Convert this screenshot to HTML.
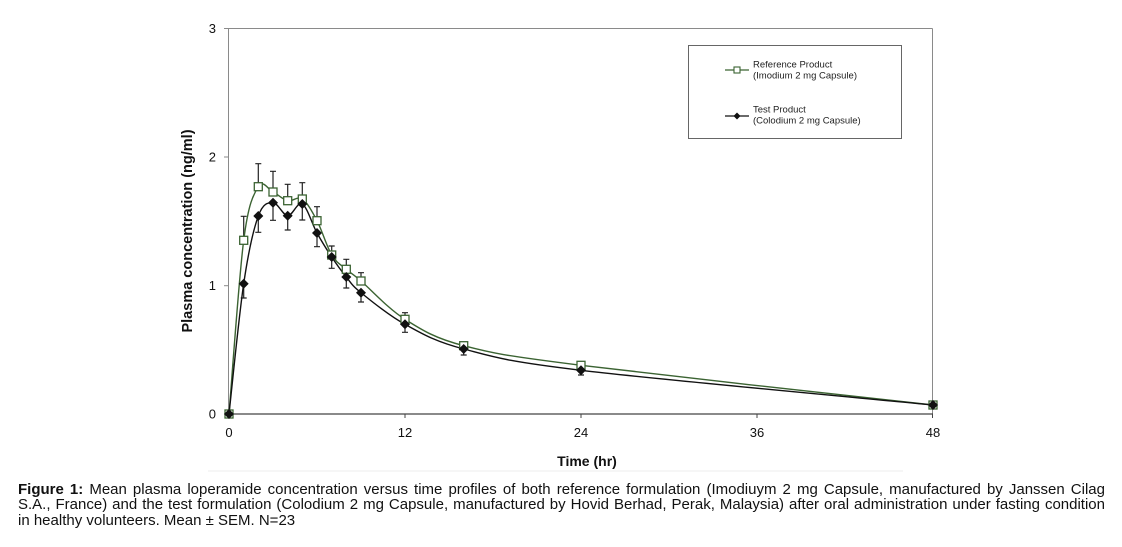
<!DOCTYPE html>
<html>
<head>
<meta charset="utf-8">
<style>
html,body{margin:0;padding:0;background:#fff;}
body{width:1122px;height:547px;position:relative;overflow:hidden;font-family:"Liberation Sans",Arial,sans-serif;}
svg{position:absolute;left:0;top:0;}
.cap{position:absolute;left:18px;width:1087px;font-size:15px;line-height:15.5px;color:#111;text-align:justify;text-align-last:justify;}
.cap.last{text-align-last:left;}
</style>
</head>
<body>
<svg width="1122" height="547" viewBox="0 0 1122 547" xmlns="http://www.w3.org/2000/svg">
  <!-- faint divider -->
  <line x1="208" y1="471" x2="903" y2="471" stroke="#ececec" stroke-width="1"/>
  <!-- plot frame -->
  <line x1="228.5" y1="28.5" x2="932.5" y2="28.5" stroke="#8a8a8a" stroke-width="1"/>
  <line x1="932.5" y1="28.5" x2="932.5" y2="418" stroke="#8a8a8a" stroke-width="1"/>
  <line x1="228.5" y1="28.5" x2="228.5" y2="414" stroke="#8a8a8a" stroke-width="1"/>
  <line x1="228.5" y1="414" x2="933" y2="414" stroke="#444" stroke-width="1.2"/>
  <!-- y ticks -->
  <g stroke="#8a8a8a" stroke-width="1">
    <line x1="224" y1="28.5" x2="228.5" y2="28.5"/>
    <line x1="224" y1="157" x2="228.5" y2="157"/>
    <line x1="224" y1="285.7" x2="228.5" y2="285.7"/>
    <line x1="224" y1="414" x2="228.5" y2="414"/>
  </g>
  <!-- x ticks -->
  <g stroke="#444" stroke-width="1">
    <line x1="229" y1="414" x2="229" y2="418"/>
    <line x1="405" y1="414" x2="405" y2="418"/>
    <line x1="581" y1="414" x2="581" y2="418"/>
    <line x1="757" y1="414" x2="757" y2="418"/>
    <line x1="932.5" y1="414" x2="932.5" y2="418"/>
  </g>
  <!-- y tick labels -->
  <g font-family="Liberation Sans, Arial, sans-serif" font-size="13" fill="#111" text-anchor="end">
    <text x="216" y="33">3</text>
    <text x="216" y="161.5">2</text>
    <text x="216" y="290">1</text>
    <text x="216" y="418.5">0</text>
  </g>
  <!-- x tick labels -->
  <g font-family="Liberation Sans, Arial, sans-serif" font-size="13" fill="#111" text-anchor="middle">
    <text x="229" y="437">0</text>
    <text x="405" y="437">12</text>
    <text x="581" y="437">24</text>
    <text x="757" y="437">36</text>
    <text x="933" y="437">48</text>
  </g>
  <!-- axis titles -->
  <text x="587" y="466" font-family="Liberation Sans, Arial, sans-serif" font-size="14" font-weight="bold" fill="#111" text-anchor="middle">Time (hr)</text>
  <text transform="translate(192,231) rotate(-90)" font-family="Liberation Sans, Arial, sans-serif" font-size="14.5" font-weight="bold" fill="#111" text-anchor="middle">Plasma concentration (ng/ml)</text>

  <!-- error bars -->
  <g stroke="#222" stroke-width="1.2" fill="none">
    <path d="M243.7 240.3V216.3M240.7 216.3H246.7"/>
    <path d="M258.3 186.7V163.7M255.3 163.7H261.3"/>
    <path d="M273 192V171.3M270 171.3H276"/>
    <path d="M287.7 200.7V184.3M284.7 184.3H290.7"/>
    <path d="M302.3 199V182.7M299.3 182.7H305.3"/>
    <path d="M317 220.7V206.7M314 206.7H320"/>
    <path d="M331.7 255V246M328.7 246H334.7"/>
    <path d="M346.3 269.3V259.3M343.3 259.3H349.3"/>
    <path d="M361 281V272.7M358 272.7H364"/>
    <path d="M405 319.3V312.7M402 312.7H408"/>
    <path d="M463.7 345.7V342.3M460.7 342.3H466.7"/>
    <path d="M243.7 283.7V298M240.7 298H246.7"/>
    <path d="M258.3 216V232.3M255.3 232.3H261.3"/>
    <path d="M273 202.7V220.3M270 220.3H276"/>
    <path d="M287.7 215.7V230M284.7 230H290.7"/>
    <path d="M302.3 204V220M299.3 220H305.3"/>
    <path d="M317 233V246.7M314 246.7H320"/>
    <path d="M331.7 257V268.3M328.7 268.3H334.7"/>
    <path d="M346.3 277V288M343.3 288H349.3"/>
    <path d="M361 292.7V302M358 302H364"/>
    <path d="M405 324.3V332.3M402 332.3H408"/>
    <path d="M463.7 349V355M460.7 355H466.7"/>
    <path d="M581 370.3V375M578 375H584"/>
  </g>

  <!-- reference curve -->
  <path fill="none" stroke="#3b6332" stroke-width="1.4" d="M229 414
    C231.45 385.05 238.82 278.18 243.7 240.3
    C248.58 202.42 253.42 194.75 258.3 186.7
    C263.18 178.65 268.1 189.67 273 192
    C277.9 194.33 282.82 199.53 287.7 200.7
    C292.58 201.87 297.42 195.67 302.3 199
    C307.18 202.33 312.1 211.37 317 220.7
    C321.9 230.03 326.82 246.9 331.7 255
    C336.58 263.1 341.42 264.97 346.3 269.3
    C351.18 273.63 351.22 272.67 361 281
    C370.78 289.33 387.88 308.52 405 319.3
    C422.12 330.08 434.37 338.03 463.7 345.7
    C493.03 353.37 502.78 355.42 581 365.3
    C659.22 375.18 874.33 398.38 933 405"/>
  <!-- test curve -->
  <path fill="none" stroke="#111" stroke-width="1.4" d="M229 414
    C231.45 392.28 238.82 316.7 243.7 283.7
    C248.58 250.7 253.42 229.5 258.3 216
    C263.18 202.5 268.1 202.75 273 202.7
    C277.9 202.65 282.82 215.48 287.7 215.7
    C292.58 215.92 297.42 201.12 302.3 204
    C307.18 206.88 312.1 224.17 317 233
    C321.9 241.83 326.82 249.67 331.7 257
    C336.58 264.33 341.42 271.05 346.3 277
    C351.18 282.95 351.22 284.82 361 292.7
    C370.78 300.58 387.88 314.92 405 324.3
    C422.12 333.68 434.37 341.33 463.7 349
    C493.03 356.67 502.78 360.97 581 370.3
    C659.22 379.63 874.33 399.22 933 405"/>

  <!-- reference markers -->
  <g fill="#fff" stroke="#3b6332" stroke-width="1.3">
    <rect x="225" y="410" width="8" height="8"/>
    <rect x="239.7" y="236.3" width="8" height="8"/>
    <rect x="254.3" y="182.7" width="8" height="8"/>
    <rect x="269" y="188" width="8" height="8"/>
    <rect x="283.7" y="196.7" width="8" height="8"/>
    <rect x="298.3" y="195" width="8" height="8"/>
    <rect x="313" y="216.7" width="8" height="8"/>
    <rect x="327.7" y="251" width="8" height="8"/>
    <rect x="342.3" y="265.3" width="8" height="8"/>
    <rect x="357" y="277" width="8" height="8"/>
    <rect x="401" y="315.3" width="8" height="8"/>
    <rect x="459.7" y="341.7" width="8" height="8"/>
    <rect x="577" y="361.3" width="8" height="8"/>
    <rect x="929" y="401" width="8" height="8"/>
  </g>
  <!-- test markers -->
  <g fill="#111">
    <path d="M229 409l5 5-5 5-5-5z"/>
    <path d="M243.7 278.7l5 5-5 5-5-5z"/>
    <path d="M258.3 211l5 5-5 5-5-5z"/>
    <path d="M273 197.7l5 5-5 5-5-5z"/>
    <path d="M287.7 210.7l5 5-5 5-5-5z"/>
    <path d="M302.3 199l5 5-5 5-5-5z"/>
    <path d="M317 228l5 5-5 5-5-5z"/>
    <path d="M331.7 252l5 5-5 5-5-5z"/>
    <path d="M346.3 272l5 5-5 5-5-5z"/>
    <path d="M361 287.7l5 5-5 5-5-5z"/>
    <path d="M405 319.3l5 5-5 5-5-5z"/>
    <path d="M463.7 344l5 5-5 5-5-5z"/>
    <path d="M581 365.3l5 5-5 5-5-5z"/>
    <path d="M933 400l5 5-5 5-5-5z"/>
  </g>

  <!-- legend -->
  <rect x="688.5" y="45.5" width="213" height="93" fill="#fff" stroke="#666" stroke-width="1"/>
  <line x1="725" y1="70" x2="749" y2="70" stroke="#3b6332" stroke-width="1.3"/>
  <rect x="734" y="67" width="6" height="6" fill="#fff" stroke="#3b6332" stroke-width="1.1"/>
  <line x1="725" y1="116" x2="749" y2="116" stroke="#111" stroke-width="1.3"/>
  <path d="M737 112.5l3.5 3.5-3.5 3.5-3.5-3.5z" fill="#111"/>
  <g font-family="Liberation Sans, Arial, sans-serif" font-size="9.5" fill="#222">
    <text x="753" y="67.5">Reference Product</text>
    <text x="753" y="78.5">(Imodium 2 mg Capsule)</text>
    <text x="753" y="112.5">Test Product</text>
    <text x="753" y="123.5">(Colodium 2 mg Capsule)</text>
  </g>
</svg>
<div class="cap" style="top:481.5px;"><b>Figure 1:</b> Mean plasma loperamide concentration versus time profiles of both reference formulation (Imodiuym 2 mg Capsule, manufactured by Janssen Cilag</div>
<div class="cap" style="top:497px;">S.A., France) and the test formulation (Colodium 2 mg Capsule, manufactured by Hovid Berhad, Perak, Malaysia) after oral administration under fasting condition</div>
<div class="cap last" style="top:512.5px;">in healthy volunteers. Mean ± SEM. N=23</div>
</body>
</html>
